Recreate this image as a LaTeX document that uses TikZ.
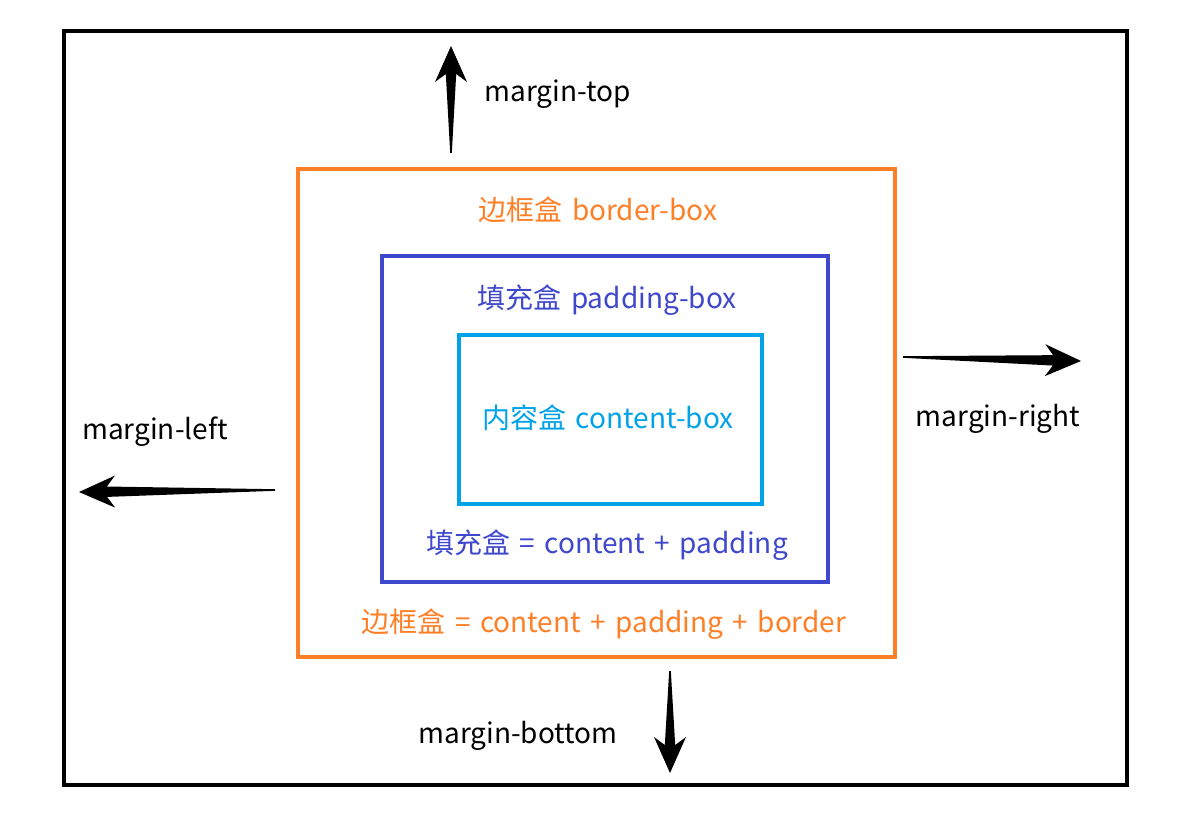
\documentclass[tikz,border=0pt]{standalone}
\usepackage{fontspec}
\setmainfont[WordSpace=1.5]{Noto Sans CJK SC}
\usepackage{xcolor}
\usepackage{tikz}
\usetikzlibrary{calc}

\definecolor{borderorange}{HTML}{FF7F27}
\definecolor{paddingblue}{HTML}{3F48CC}
\definecolor{contentcyan}{HTML}{00A2E8}

\tikzset{
	box/.style={line width=2pt},
	label/.style={font=\fontsize{14}{16}\selectfont, inner sep=0pt},
}

% tapered arrow from #1 (tail) to #2 (tip)
\newcommand{\marginarrow}[2]{
	\fill ($(#1)!0.4pt!90:(#2)$)
		-- ($($(#2)!14pt!(#1)$)!2.6pt!90:(#2)$)
		-- ($($(#2)!18pt!(#1)$)!8pt!90:(#2)$)
		-- (#2)
		-- ($($(#2)!18pt!(#1)$)!8pt!-90:(#2)$)
		-- ($($(#2)!14pt!(#1)$)!2.6pt!-90:(#2)$)
		-- ($(#1)!0.4pt!-90:(#2)$) -- cycle;
}

\begin{document}
\begin{tikzpicture}[x=0.5pt,y=-0.5pt]
			\useasboundingbox (0,0) rectangle (1182,818);
			% boxes
			\draw[box] (64,31) rectangle (1127,785);
			\draw[box,borderorange] (298,169) rectangle (895,657);
			\draw[box,paddingblue] (382,256) rectangle (828,582);
			\draw[box,contentcyan] (459,335) rectangle (762,504);

			\node (border)		[label,borderorange]	at (598,210)	{边框盒 border-box};
			\node (padding)		[label,paddingblue]	at (607,300)	{填充盒 padding-box};
			\node (content)		[label,contentcyan]	at (608,418)	{内容盒 content-box};
			\node (paddingsum)	[label,paddingblue]	at (607,545)	{填充盒 = content + padding};
			\node (bordersum)	[label,borderorange]	at (604,624)	{边框盒 = content + padding + border};

			% margins
			\coordinate (top0) at (451,153);
			\coordinate (top1) at (451,46);
			\coordinate (right0) at (903,357);
			\coordinate (right1) at (1081,361);
			\coordinate (left0) at (275,490);
			\coordinate (left1) at (79,492);
			\coordinate (bottom0) at (670,671);
			\coordinate (bottom1) at (670,773);
			\marginarrow{top0}{top1}
			\marginarrow{right0}{right1}
			\marginarrow{left0}{left1}
			\marginarrow{bottom0}{bottom1}

			\node (mtop)		[label,anchor=west]	at (484,94)	{margin-top};
			\node (mright)		[label]			at (998,419)	{margin-right};
			\node (mleft)		[label]			at (155,432)	{margin-left};
			\node (mbottom)		[label]			at (518,736)	{margin-bottom};
		\end{tikzpicture}
\end{document}
